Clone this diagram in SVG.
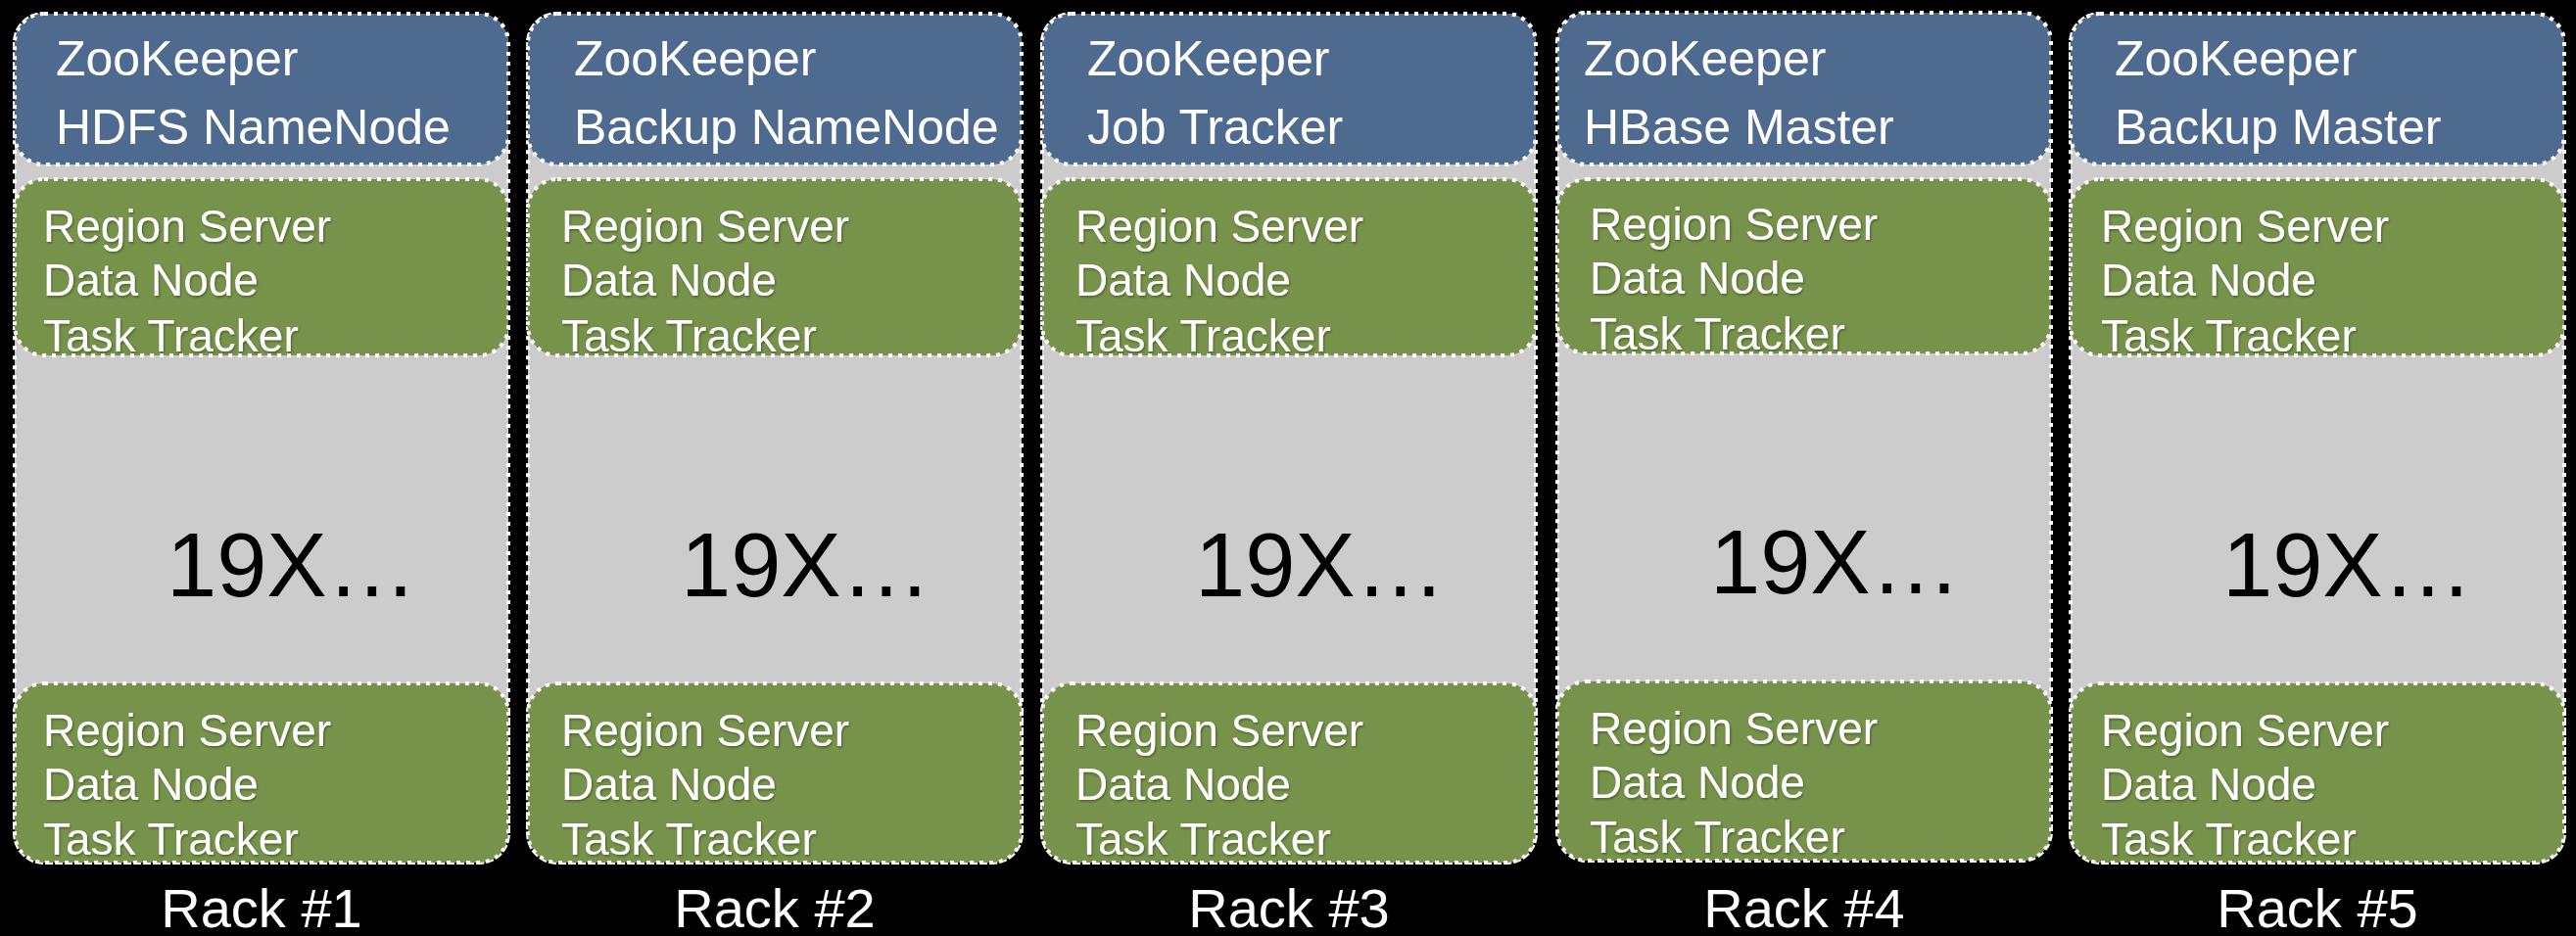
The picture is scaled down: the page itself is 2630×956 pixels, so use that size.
<svg xmlns="http://www.w3.org/2000/svg" width="2630" height="956" viewBox="0 0 2630 956">
  <style>
    .rack { fill: #cccccc; }
    .dots { stroke: #ffffff; stroke-width: 4; stroke-dasharray: 4 6; }
    .master { fill: #4f6a8f; }
    .worker { fill: #77934b; }
    .t { font-family: "Liberation Sans", Arial, sans-serif; fill: #ffffff; }
    .tm { font-size: 50px; }
    .tw { font-size: 46px; }
    .many { font-family: "Liberation Sans", Arial, sans-serif; font-size: 92px; fill: #000000; }
    .label { font-family: "Liberation Sans", Arial, sans-serif; font-size: 56px; fill: #ffffff; text-anchor: middle; }
  </style>
  <defs>
    <filter id="soft" x="-5%" y="-20%" width="110%" height="140%">
      <feDropShadow dx="1" dy="1.5" stdDeviation="1" flood-color="#2a3a18" flood-opacity="0.6"/>
    </filter>
  </defs>
  <rect x="0" y="0" width="2630" height="956" fill="#000000"/>

  <!-- Rack 1 -->
  <g id="rack1">
    <rect class="rack dots" x="15" y="14" width="504" height="867" rx="30"/>
    <rect class="master dots" x="15" y="14" width="504" height="154" rx="30"/>
    <rect class="worker dots" x="15" y="183" width="504" height="180" rx="30"/>
    <rect class="worker dots" x="15" y="698" width="504" height="183" rx="30"/>
    <text class="t tm" x="57" y="77">ZooKeeper</text>
    <text class="t tm" x="57" y="147">HDFS NameNode</text>
    <g filter="url(#soft)">
      <text class="t tw" x="44" y="247">Region Server</text>
      <text class="t tw" x="44" y="302">Data Node</text>
      <text class="t tw" x="44" y="359">Task Tracker</text>
      <text class="t tw" x="44" y="762">Region Server</text>
      <text class="t tw" x="44" y="817">Data Node</text>
      <text class="t tw" x="44" y="873">Task Tracker</text>
    </g>
    <text class="many" x="170" y="609">19X…</text>
    <text class="label" x="267" y="947">Rack #1</text>
  </g>

  <!-- Rack 2 -->
  <g id="rack2">
    <rect class="rack dots" x="539" y="14" width="504" height="867" rx="30"/>
    <rect class="master dots" x="539" y="14" width="504" height="154" rx="30"/>
    <rect class="worker dots" x="539" y="183" width="504" height="180" rx="30"/>
    <rect class="worker dots" x="539" y="698" width="504" height="183" rx="30"/>
    <text class="t tm" x="586" y="77">ZooKeeper</text>
    <text class="t tm" x="586" y="147">Backup NameNode</text>
    <g filter="url(#soft)">
      <text class="t tw" x="573" y="247">Region Server</text>
      <text class="t tw" x="573" y="302">Data Node</text>
      <text class="t tw" x="573" y="359">Task Tracker</text>
      <text class="t tw" x="573" y="762">Region Server</text>
      <text class="t tw" x="573" y="817">Data Node</text>
      <text class="t tw" x="573" y="873">Task Tracker</text>
    </g>
    <text class="many" x="695" y="609">19X…</text>
    <text class="label" x="791" y="947">Rack #2</text>
  </g>

  <!-- Rack 3 -->
  <g id="rack3">
    <rect class="rack dots" x="1064" y="14" width="504" height="867" rx="30"/>
    <rect class="master dots" x="1064" y="14" width="504" height="154" rx="30"/>
    <rect class="worker dots" x="1064" y="183" width="504" height="180" rx="30"/>
    <rect class="worker dots" x="1064" y="698" width="504" height="183" rx="30"/>
    <text class="t tm" x="1110" y="77">ZooKeeper</text>
    <text class="t tm" x="1110" y="147">Job Tracker</text>
    <g filter="url(#soft)">
      <text class="t tw" x="1098" y="247">Region Server</text>
      <text class="t tw" x="1098" y="302">Data Node</text>
      <text class="t tw" x="1098" y="359">Task Tracker</text>
      <text class="t tw" x="1098" y="762">Region Server</text>
      <text class="t tw" x="1098" y="817">Data Node</text>
      <text class="t tw" x="1098" y="873">Task Tracker</text>
    </g>
    <text class="many" x="1220" y="609">19X…</text>
    <text class="label" x="1316" y="947">Rack #3</text>
  </g>

  <!-- Rack 4 -->
  <g id="rack4">
    <rect class="rack dots" x="1590" y="13" width="504" height="866" rx="30"/>
    <rect class="master dots" x="1590" y="13" width="504" height="155" rx="30"/>
    <rect class="worker dots" x="1590" y="183" width="504" height="178" rx="30"/>
    <rect class="worker dots" x="1590" y="696" width="504" height="183" rx="30"/>
    <text class="t tm" x="1617" y="77">ZooKeeper</text>
    <text class="t tm" x="1617" y="147">HBase Master</text>
    <g filter="url(#soft)">
      <text class="t tw" x="1623" y="245">Region Server</text>
      <text class="t tw" x="1623" y="300">Data Node</text>
      <text class="t tw" x="1623" y="357">Task Tracker</text>
      <text class="t tw" x="1623" y="760">Region Server</text>
      <text class="t tw" x="1623" y="815">Data Node</text>
      <text class="t tw" x="1623" y="871">Task Tracker</text>
    </g>
    <text class="many" x="1746" y="606">19X…</text>
    <text class="label" x="1842" y="947">Rack #4</text>
  </g>

  <!-- Rack 5 -->
  <g id="rack5">
    <rect class="rack dots" x="2114" y="14" width="504" height="867" rx="30"/>
    <rect class="master dots" x="2114" y="14" width="504" height="154" rx="30"/>
    <rect class="worker dots" x="2114" y="183" width="504" height="180" rx="30"/>
    <rect class="worker dots" x="2114" y="698" width="504" height="183" rx="30"/>
    <text class="t tm" x="2159" y="77">ZooKeeper</text>
    <text class="t tm" x="2159" y="147">Backup Master</text>
    <g filter="url(#soft)">
      <text class="t tw" x="2145" y="247">Region Server</text>
      <text class="t tw" x="2145" y="302">Data Node</text>
      <text class="t tw" x="2145" y="359">Task Tracker</text>
      <text class="t tw" x="2145" y="762">Region Server</text>
      <text class="t tw" x="2145" y="817">Data Node</text>
      <text class="t tw" x="2145" y="873">Task Tracker</text>
    </g>
    <text class="many" x="2269" y="609">19X…</text>
    <text class="label" x="2366" y="947">Rack #5</text>
  </g>

  <!-- no connectors between racks -->
  <g id="connectors"/>
</svg>
